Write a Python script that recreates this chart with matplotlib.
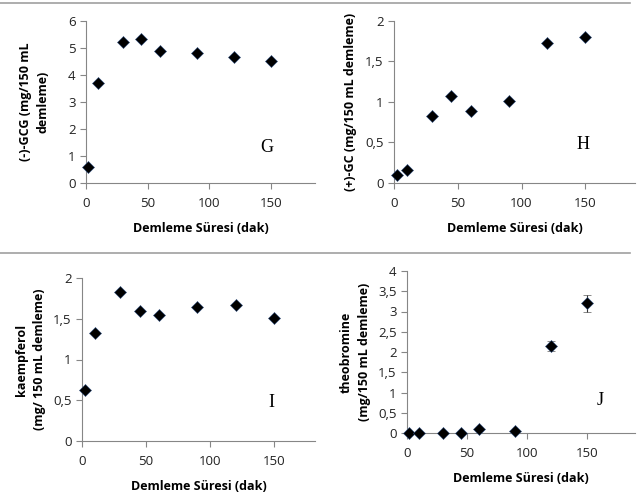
import matplotlib.pyplot as plt
from matplotlib.lines import Line2D
from matplotlib.ticker import FuncFormatter

# demleme sureleri (dak)
sure = [2, 10, 30, 45, 60, 90, 120, 150]

gcg = [0.58, 3.70, 5.22, 5.35, 4.88, 4.80, 4.68, 4.52]
gc = [0.10, 0.16, 0.83, 1.07, 0.89, 1.01, 1.73, 1.80]
kaempferol = [0.62, 1.33, 1.83, 1.60, 1.55, 1.64, 1.67, 1.51]
theobromine = [0.0, 0.0, 0.0, 0.0, 0.10, 0.05, 2.15, 3.20]
theobromine_err = [0.0, 0.0, 0.0, 0.0, 0.0, 0.0, 0.12, 0.20]

plt.rcParams['font.family'] = ['Open Sans', 'DejaVu Sans']

W, H = 639, 495
fig = plt.figure(figsize=(W / 100, H / 100), dpi=100)


def panel(l, r, t, b):
    return fig.add_axes([l / W, 1 - b / H, (r - l) / W, (b - t) / H])


def virgul(v, pos):
    s = ('%g' % v).replace('.', ',')
    return s


def style(ax, xmax, ymax, ystep, ylabel, letter, lx, ly, ypad=6):
    ax.set_xlim(0, xmax)
    ax.set_ylim(0, ymax)
    ax.set_xticks([0, 50, 100, 150])
    yt = []
    v = 0
    while v <= ymax + 1e-9:
        yt.append(v)
        v += ystep
    ax.set_yticks(yt)
    ax.yaxis.set_major_formatter(FuncFormatter(virgul))
    for s in ['top', 'right']:
        ax.spines[s].set_visible(False)
    for s in ['left', 'bottom']:
        ax.spines[s].set_color('#868686')
        ax.spines[s].set_linewidth(0.8)
    ax.tick_params(colors='#868686', labelcolor='#222222', labelsize=9.5,
                   length=4, width=0.8)
    ax.tick_params(axis='x', pad=6)
    ax.set_xlabel('Demleme Süresi (dak)', fontsize=9, fontweight='bold', labelpad=9)
    ax.set_ylabel(ylabel, fontsize=9, fontweight='bold', labelpad=ypad, linespacing=1.5)
    ax.text(lx, ly, letter, family='Liberation Serif', fontsize=13, ha='center', va='center')


mk = dict(marker='D', markersize=6.5, color='black', markeredgecolor='#2a4a7a',
          markeredgewidth=0.4, linestyle='none', clip_on=False, zorder=3)

ax1 = panel(86, 315, 21, 183)
ax1.plot(sure, gcg, **mk)
style(ax1, 186, 6, 1, '(-)-GCG (mg/150 mL\ndemleme)', 'G', 147, 1.33, ypad=13)

ax2 = panel(394, 635, 21, 183)
ax2.plot(sure, gc, **mk)
style(ax2, 189, 2, 0.5, '(+)-GC (mg/150 mL demleme)', 'H', 148, 0.47)

ax3 = panel(82, 315, 278, 441)
ax3.plot(sure, kaempferol, **mk)
style(ax3, 182, 2, 0.5, 'kaempferol\n(mg/ 150 mL demleme)', 'I', 148, 0.47, ypad=5)

ax4 = panel(407, 635, 271, 433)
ax4.errorbar(sure, theobromine, yerr=theobromine_err, ecolor='#333333',
             elinewidth=0.8, capsize=3, capthick=0.8, **mk)
style(ax4, 190, 4, 0.5, 'theobromine\n(mg/150 mL demleme)', 'J', 161, 0.81, ypad=5)

# gri ayirici cizgiler
fig.add_artist(Line2D([0, 630 / W], [1 - 3 / H, 1 - 3 / H], color='#a0a0a0', lw=1.2))
fig.add_artist(Line2D([0, 630 / W], [1 - 253 / H, 1 - 253 / H], color='#a0a0a0', lw=1.2))

fig.savefig('out.png', dpi=100)
